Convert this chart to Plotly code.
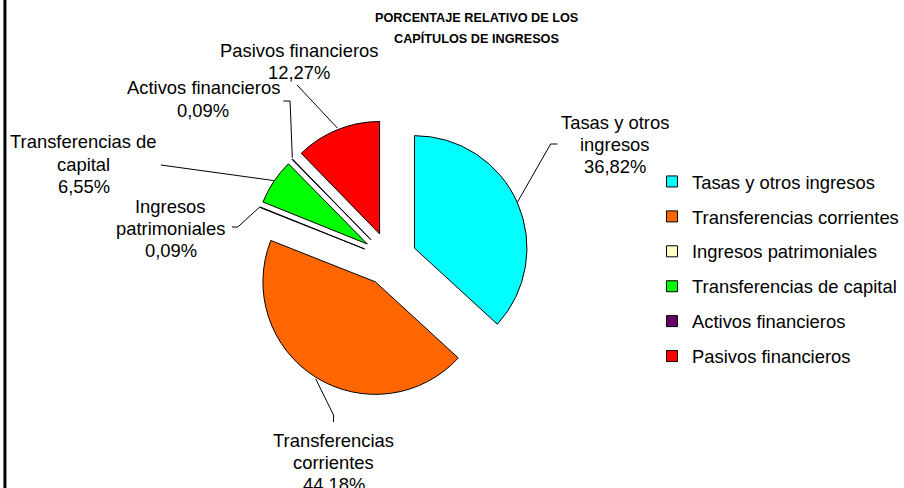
import math
import plotly.graph_objects as go

# ---- data ----
labels = ["Tasas y otros ingresos", "Transferencias corrientes", "Ingresos patrimoniales",
          "Transferencias de capital", "Activos financieros", "Pasivos financieros"]
values = [36.82, 44.18, 0.09, 6.55, 0.09, 12.27]
pct_text = ["36,82%", "44,18%", "0,09%", "6,55%", "0,09%", "12,27%"]
label_lines = [["Tasas y otros", "ingresos"], ["Transferencias", "corrientes"],
               ["Ingresos", "patrimoniales"], ["Transferencias de", "capital"],
               ["Activos financieros"], ["Pasivos financieros"]]
colors = ["#00FFFF", "#FF6600", "#FFFFCC", "#00FF00", "#660066", "#FF0000"]
title_lines = ["PORCENTAJE RELATIVO DE LOS", "CAPÍTULOS DE INGRESOS"]

# ---- layout constants (pixels) ----
W, H = 904, 488
CX, CY = 395, 259          # pie centre
R = 114                    # pie radius
PULL = 0.24
FONT = "Liberation Sans, Arial, sans-serif"
FS = 18.4
LS = 22.4                  # label line spacing

half = R * (1 + PULL)
dom_x = [(CX - half) / W, (CX + half) / W]
dom_y = [(H - CY - half) / H, (H - CY + half) / H]

# label centre x and first-line y, leader-line waypoints (pixels)
label_pos = [(623, 122), (338, 440), (173, 206), (85, 142), (206, 88), (303, 50)]
leader_way = [[(558, 144), (565, 144)],
              [(338, 415), (338, 422)],
              [(241, 227), (235, 227)],
              [(163, 165)],
              [(294, 101), (287, 101)],
              [(301, 85)]]

def px(x, y):
    return x / W, 1 - y / H

fig = go.Figure()
fig.add_trace(go.Pie(
    labels=labels, values=values, sort=False, direction="clockwise", rotation=0,
    marker=dict(colors=colors, line=dict(color="black", width=1)),
    pull=[PULL] * len(values), textinfo="none", hoverinfo="label+percent",
    showlegend=False, domain=dict(x=dom_x, y=dom_y),
))

# legend entries
for lab, col in zip(labels, colors):
    fig.add_trace(go.Scatter(
        x=[None], y=[None], mode="markers", name=lab, legendgroup=lab,
        marker=dict(symbol="square", size=11, color=col, line=dict(color="black", width=1)),
        showlegend=True, hoverinfo="skip"))

shapes = []
annotations = []
total = sum(values)
cum = 0.0
for i, v in enumerate(values):
    mid = (cum + v / 2) / total * 2 * math.pi
    cum += v
    sx, sy = math.sin(mid), -math.cos(mid)
    ccx, ccy = CX + PULL * R * sx, CY + PULL * R * sy
    ax, ay = ccx + R * sx, ccy + R * sy
    pts = [(ax, ay)] + leader_way[i]
    path = "M " + " L ".join("%.4f,%.4f" % px(x, y) for x, y in pts)
    shapes.append(dict(type="path", path=path, xref="paper", yref="paper",
                       line=dict(color="black", width=1)))
    lx, ly = label_pos[i]
    for k, line in enumerate(label_lines[i] + [pct_text[i]]):
        annotations.append(dict(x=lx / W, y=1 - (ly + k * LS) / H, xref="paper", yref="paper",
                                text=line, showarrow=False,
                                xanchor="center", yanchor="middle", align="center",
                                font=dict(family=FONT, size=FS, color="black")))

for j, t in enumerate(title_lines):
    annotations.append(dict(x=483 / W, y=1 - (18 + 20 * j) / H, xref="paper", yref="paper",
                            text="<b>" + t + "</b>", showarrow=False,
                            xanchor="center", yanchor="middle",
                            font=dict(family=FONT, size=12.7, color="black")))

# left frame line
shapes.append(dict(type="line", x0=5 / W, x1=5 / W, y0=0, y1=1, xref="paper", yref="paper",
                   line=dict(color="black", width=3)))

fig.update_layout(
    width=W, height=H, margin=dict(l=0, r=0, t=0, b=0),
    paper_bgcolor="white", plot_bgcolor="white",
    xaxis=dict(visible=False), yaxis=dict(visible=False),
    shapes=shapes, annotations=annotations,
    legend=dict(x=661 / W, y=1 - 163 / H, xanchor="left", yanchor="top",
                traceorder="grouped", tracegroupgap=8,
                font=dict(family=FONT, size=FS, color="black"),
                bgcolor="rgba(0,0,0,0)"),
    font=dict(family=FONT),
)

fig.write_html("out.html", config={"displayModeBar": False},
               post_script="document.body.style.margin='0';")
